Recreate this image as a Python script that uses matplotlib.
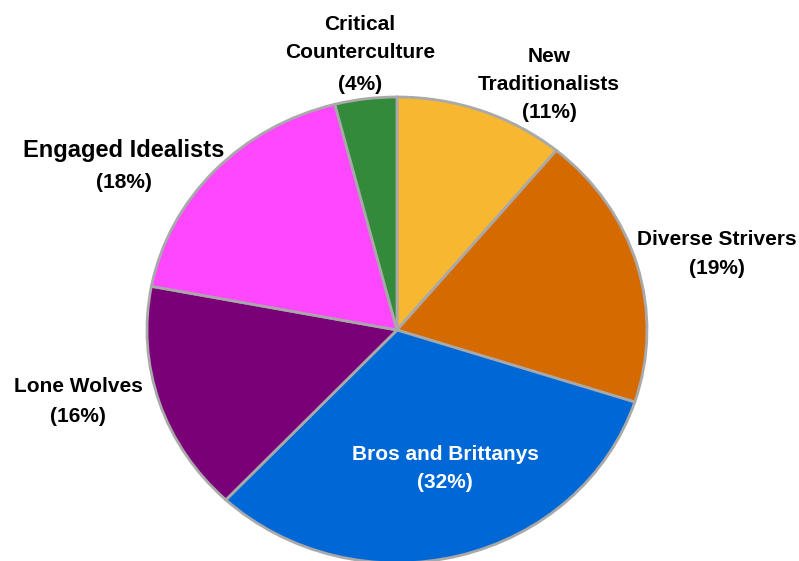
import matplotlib
matplotlib.use("Agg")
import matplotlib.pyplot as plt

segments = ["New\nTraditionalists", "Diverse Strivers", "Bros and Brittanys",
            "Lone Wolves", "Engaged Idealists", "Critical\nCounterculture"]
shares = [11, 19, 32, 16, 18, 4]
colors = ["#F7B731", "#D46A00", "#0068D6", "#7A0078", "#FF47FF", "#338A3A"]

# label placement in canvas pixels: x centre, y of name block, y of share line
label_x = [549, 717, 445, 78, 124, 360]
name_y = [71, 240, 454, 387, 150, 39]
share_y = [113, 269, 483, 416, 183, 85]
name_size = [15, 15, 15, 15, 17, 15]
label_color = ["black", "black", "white", "black", "black", "black"]

plt.rcParams["font.family"] = ["Liberation Sans Narrow", "Liberation Sans", "DejaVu Sans"]

W, H = 799, 561
CX, CY = 397, 330          # pie centre in pixels
RX, RY = 250, 233          # horizontal / vertical radius in pixels

fig = plt.figure(figsize=(W / 100, H / 100), dpi=100)
ax = fig.add_axes([0, 0, 1, 1])

ax.pie(shares, colors=colors, startangle=90, counterclock=False,
       wedgeprops=dict(edgecolor="#A9A9A9", linewidth=2))
ax.set_aspect("auto")
ax.set_xlim(-CX / RX, (W - CX) / RX)
ax.set_ylim(-(H - CY) / RY, CY / RY)
ax.axis("off")

for name, val, x, ny, sy, fs, c in zip(segments, shares, label_x, name_y,
                                       share_y, name_size, label_color):
    ax.text(x / W, 1 - ny / H, name, transform=ax.transAxes,
            ha="center", va="center", multialignment="center",
            fontsize=fs, fontweight="bold", color=c, linespacing=1.6)
    ax.text(x / W, 1 - sy / H, f"({val}%)", transform=ax.transAxes,
            ha="center", va="center", fontsize=15, fontweight="bold", color=c)

fig.savefig("out.png", dpi=100)
